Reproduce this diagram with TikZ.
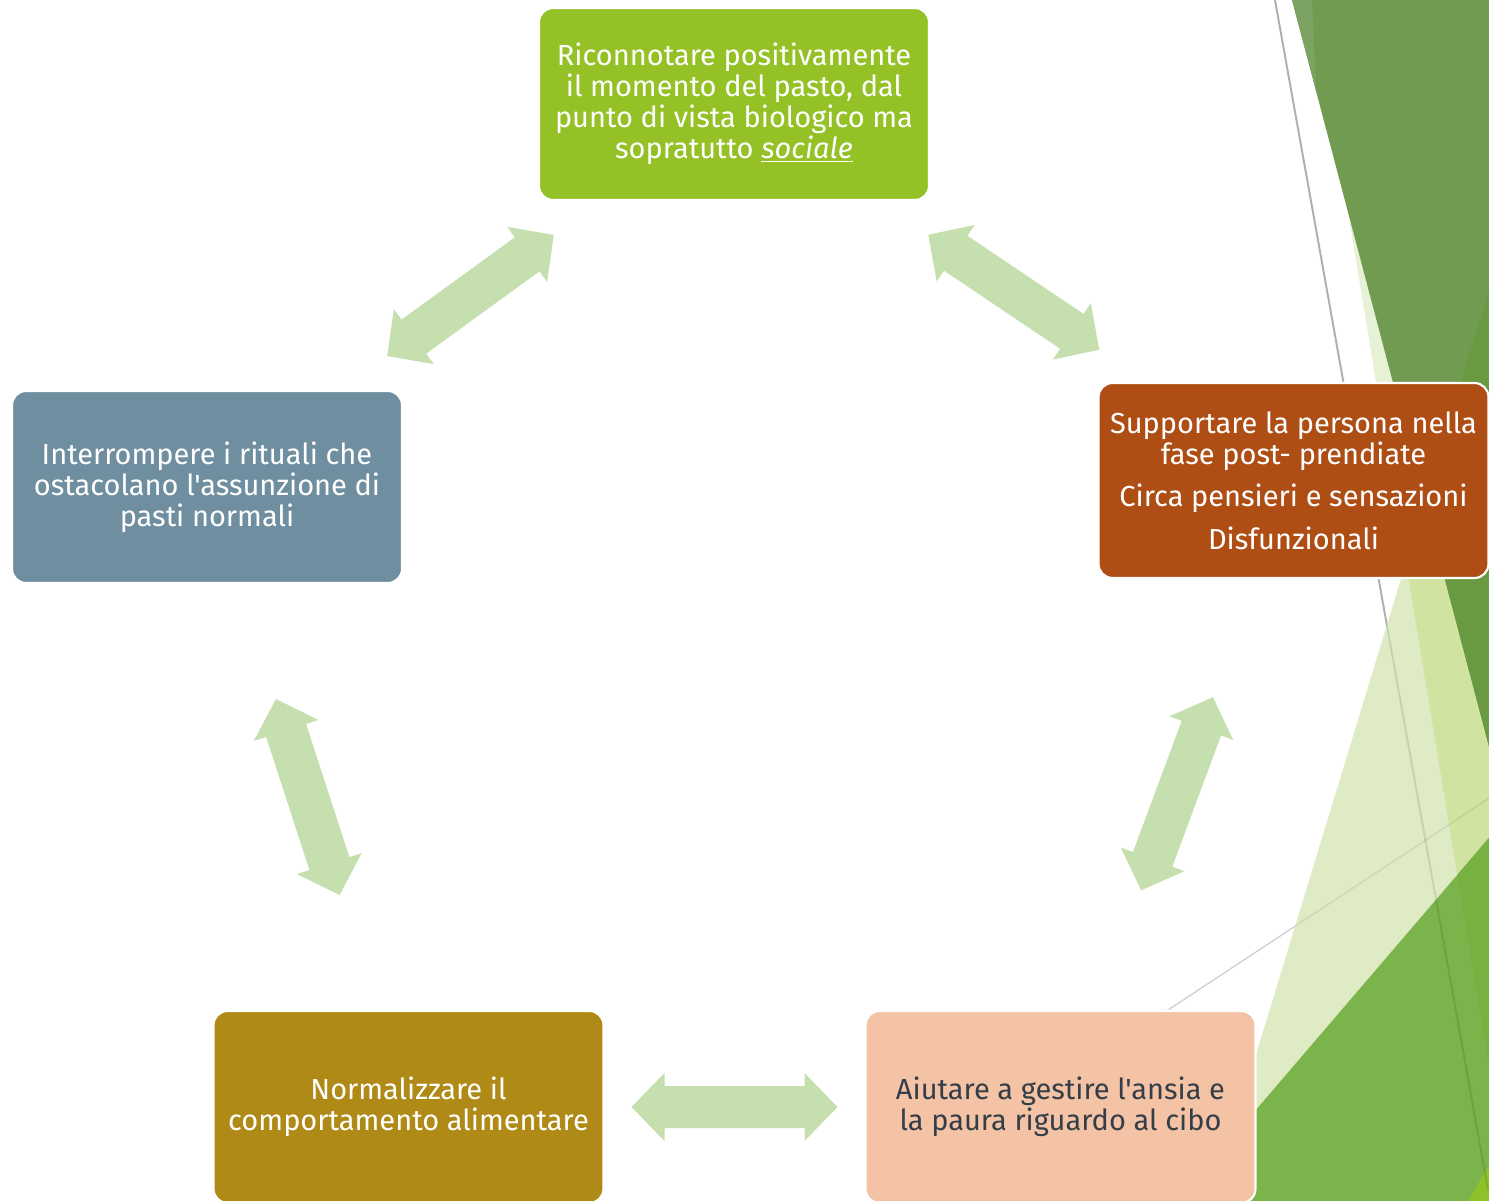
\documentclass[tikz,border=0pt]{standalone}
\usepackage{fontspec}
\setmainfont{Fira Sans}[Ligatures=TeXOff]
\usetikzlibrary{calc}

% palette
\definecolor{leafgreen}{RGB}{148,194,38}
\definecolor{slate}{RGB}{111,143,160}
\definecolor{rust}{RGB}{174,78,20}
\definecolor{olive}{RGB}{175,138,22}
\definecolor{peach}{RGB}{244,194,164}
\definecolor{darktext}{RGB}{52,62,72}
\definecolor{arrowgreen}{RGB}{197,223,174}
% facet decoration
\definecolor{facetpale}{RGB}{231,241,214}
\definecolor{facetlight}{RGB}{222,235,197}
\definecolor{facetlime}{RGB}{209,227,160}
\definecolor{facetdark}{RGB}{114,155,82}
\definecolor{facetdeep}{RGB}{105,153,64}
\definecolor{facetsliver}{RGB}{124,163,98}
\definecolor{facetmid}{RGB}{123,180,75}
\definecolor{facetmidstrip}{RGB}{118,177,66}
\definecolor{facetcorner}{RGB}{142,193,42}
\definecolor{facetlineA}{RGB}{175,175,175}
\definecolor{facetlineB}{RGB}{210,210,210}

\tikzset{
  box/.style={draw=white, line width=1.2pt, rounded corners=0.28cm,
    minimum width=7.8cm, minimum height=3.84cm, align=center,
    text=white, inner sep=0pt, font=\fontsize{16.5}{17.6}\selectfont},
  pics/dblarrow/.style={code={
    \fill[arrowgreen] (-103,0) -- (-70,-34) -- (-70,-21) -- (70,-21)
      -- (70,-34) -- (103,0) -- (70,34) -- (70,21) -- (-70,21)
      -- (-70,34) -- cycle;}},
}

% block arrow halfway between two boxes, aligned with their centres
\newcommand{\linkarrow}[2]{%
  \path let \p1=(#1), \p2=(#2), \n1={atan2(\y2-\y1,\x2-\x1)} in
    ($(#1)!0.5!(#2)$) pic[rotate=\n1] {dblarrow};}

% outlines of the decorative facets
\def\facetLtwo{(1313,0) -- (1500,0) -- (1500,1133) -- cycle}
\def\facetLone{(1500,254) -- (1240,1107) -- (1240,1210) -- (1500,1210) -- cycle}
\def\facetD{(1292,0) -- (1500,0) -- (1500,788) -- cycle}
\def\facetM{(1240,1128.5) -- (1500,825) -- (1500,1210) -- (1240,1210) -- cycle}

\begin{document}
\begin{tikzpicture}[x=0.02cm,y=-0.02cm]
\useasboundingbox (0,0) rectangle (1489,1201);
\clip (0,0) rectangle (1489,1201);

% thin guide lines
\draw[facetlineA, line width=1.1pt] (1275,0) -- (1488,1190);
\draw[facetlineB, line width=0.8pt] (1165,1012) -- (1500,791);

% facets
\fill[facetpale] \facetLtwo;
\fill[facetlight] \facetLone;
\begin{scope}
  \clip \facetLone;
  \fill[facetlime] \facetLtwo;
\end{scope}
\fill[facetdark] \facetD;
\begin{scope}
  \clip \facetD;
  \fill[facetdeep] \facetLone;
\end{scope}
\fill[facetsliver] (1292,0) -- (1312,0) -- (1316,90) -- cycle;
\fill[facetmid] \facetM;
\begin{scope}
  \clip \facetM;
  \fill[facetmidstrip] \facetLtwo;
\end{scope}
\fill[facetcorner] (1463,1210) -- (1500,1146) -- (1500,1210) -- cycle;

% guide lines seen through the facets
\begin{scope}
  \clip \facetLone;
  \draw[black, opacity=0.1, line width=1.1pt] (1275,0) -- (1488,1190);
  \draw[black, opacity=0.08, line width=0.8pt] (1165,1012) -- (1500,791);
\end{scope}

% boxes
\node[box, fill=leafgreen] (meal) at (734,104)
  {Riconnotare positivamente\\il momento del pasto, dal\\punto di vista biologico ma\\sopratutto \underline{\textit{sociale}}};
\node[box, fill=slate] (rituals) at (207,487)
  {Interrompere i rituali che\\ostacolano l'assunzione di\\pasti normali};
\node[box, fill=rust, minimum height=3.9cm] (support) at (1293.5,480.5)
  {Supportare la persona nella\\fase post- prendiate\\[0.22cm]Circa pensieri e sensazioni\\[0.24cm]Disfunzionali};
\node[box, fill=olive] (behaviour) at (408.5,1107)
  {Normalizzare il\\comportamento alimentare};
\node[box, fill=peach, text=darktext] (anxiety) at (1060.5,1107)
  {Aiutare a gestire l'ansia e\\la paura riguardo al cibo};

% connecting block arrows
\linkarrow{rituals}{meal}
\linkarrow{meal}{support}
\linkarrow{rituals}{behaviour}
\linkarrow{anxiety}{support}
\linkarrow{behaviour}{anxiety}
\end{tikzpicture}
\end{document}
